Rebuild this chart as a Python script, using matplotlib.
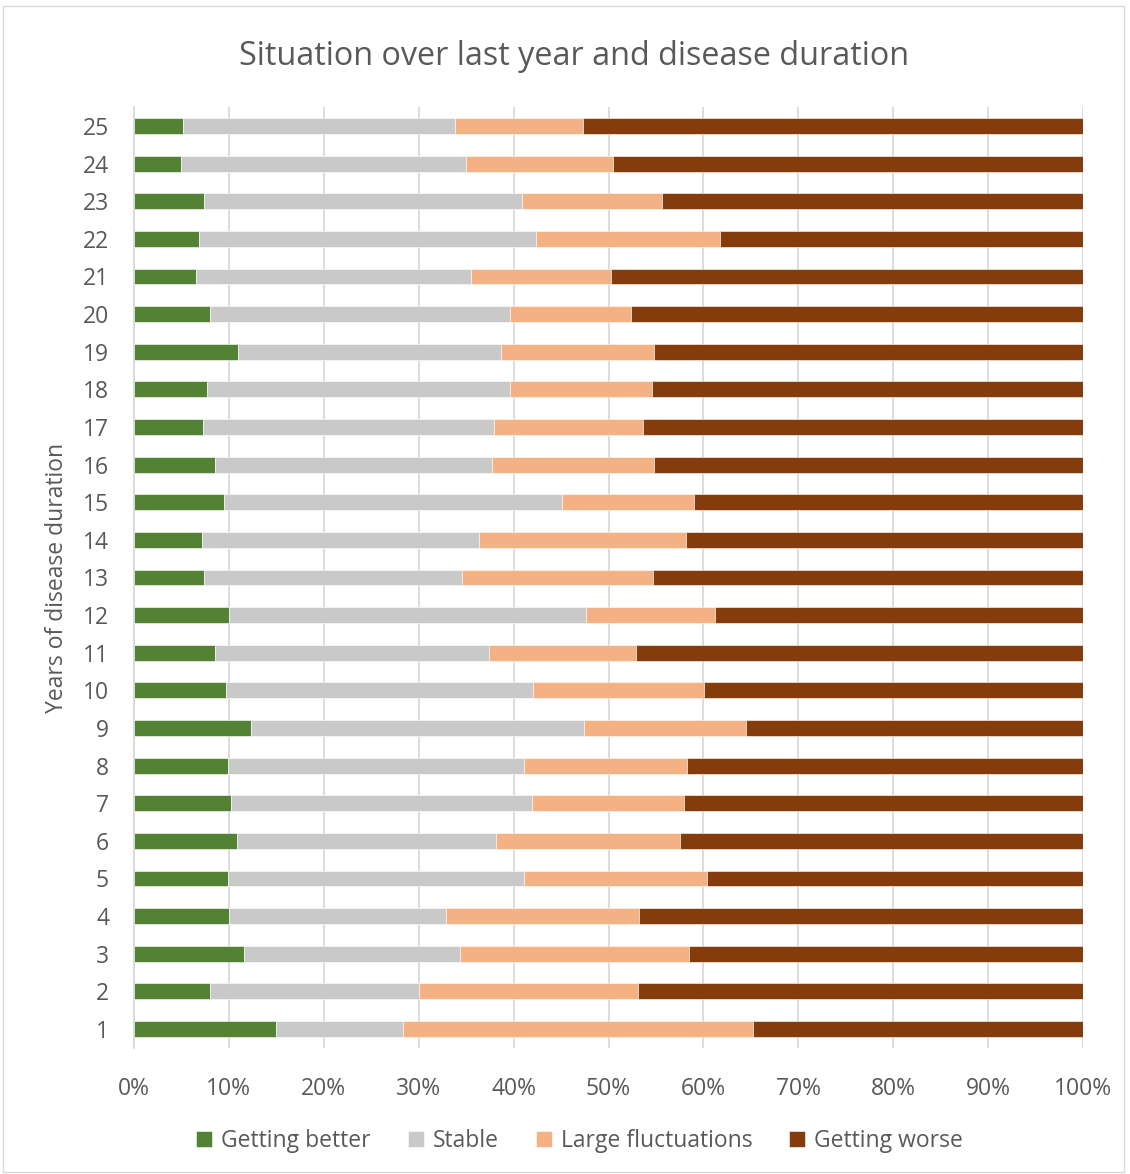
import numpy as np
import matplotlib.pyplot as plt
from matplotlib.patches import Rectangle

years = list(range(1, 26))
# cumulative boundaries (percent), year 1 .. 25
better = [15.0, 8.0, 11.6, 10.0, 9.9, 10.8, 10.2, 9.9, 12.3, 9.7, 8.5, 10.0, 7.4,
          7.2, 9.5, 8.5, 7.3, 7.7, 11.0, 8.0, 6.5, 6.9, 7.4, 5.0, 5.2]
stable_end = [28.3, 30.0, 34.3, 32.9, 41.1, 38.1, 41.9, 41.1, 47.4, 42.0, 37.4, 47.6, 34.6,
              36.4, 45.1, 37.7, 37.9, 39.6, 38.7, 39.6, 35.5, 42.4, 40.9, 35.0, 33.8]
fluct_end = [65.2, 53.1, 58.5, 53.2, 60.4, 57.5, 58.0, 58.3, 64.5, 60.1, 52.9, 61.2, 54.7,
             58.2, 59.0, 54.8, 53.6, 54.6, 54.8, 52.4, 50.3, 61.7, 55.6, 50.5, 47.3]

better = np.array(better)
stable = np.array(stable_end) - better
fluct = np.array(fluct_end) - np.array(stable_end)
worse = 100 - np.array(fluct_end)

labels = ['Getting better', 'Stable', 'Large fluctuations', 'Getting worse']
colors = ['#548235', '#C9C9C9', '#F4B183', '#843C0C']

plt.rcParams['font.family'] = ['Open Sans', 'DejaVu Sans']
txt = '#595959'

fig = plt.figure(figsize=(11.3, 11.74), dpi=100)
ax = fig.add_axes([0.1186, 0.1075, 0.8398, 0.8012])

left = np.zeros(len(years))
for vals, lab, col in zip([better, stable, fluct, worse], labels, colors):
    ax.barh(years, vals, left=left, height=0.42, color=col, label=lab,
            edgecolor='white', linewidth=0.4, zorder=3)
    left += vals

ax.set_xlim(0, 100)
ax.set_ylim(0.5, 25.5)
ax.set_xticks(np.arange(0, 101, 10))
ax.set_xticklabels([f'{v}%' for v in range(0, 101, 10)])
ax.set_yticks(years)
ax.tick_params(length=0, labelsize=16.5, colors=txt, pad=18)
ax.tick_params(axis='x', pad=21)
ax.grid(axis='x', color='#D9D9D9', linewidth=1.3, zorder=0)
for s in ['top', 'right', 'bottom']:
    ax.spines[s].set_visible(False)
ax.spines['left'].set_color('#D9D9D9')
ax.spines['left'].set_linewidth(1.3)

ax.set_ylabel('Years of disease duration', fontsize=16.5, color=txt, labelpad=10)
fig.text(0.508, 0.952, 'Situation over last year and disease duration',
         ha='center', va='center', fontsize=23.3, color=txt)

leg = fig.legend(loc='center', bbox_to_anchor=(0.513, 0.028), ncol=4, frameon=False,
                 fontsize=16.5, handlelength=0.7, handleheight=0.7, handletextpad=0.4,
                 columnspacing=1.6)
for t in leg.get_texts():
    t.set_color(txt)

fig.patches.append(Rectangle((0.003, 0.002), 0.992, 0.993, transform=fig.transFigure,
                             fill=False, edgecolor='#D9D9D9', linewidth=1))

fig.savefig('out.png', dpi=100)
